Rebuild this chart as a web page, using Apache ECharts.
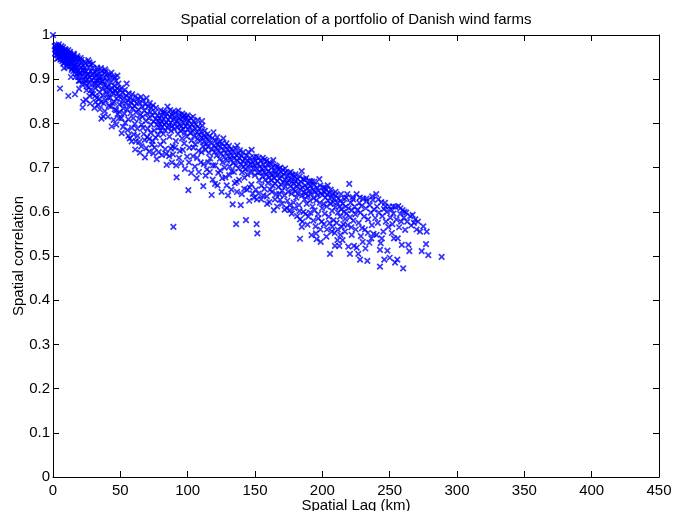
<!DOCTYPE html>
<html>
<head>
<meta charset="utf-8">
<script src="https://cdn.jsdelivr.net/npm/echarts@6/dist/echarts.min.js"></script>
<style>
  html, body { margin: 0; padding: 0; background: #fff; }
  #chart { width: 673px; height: 511px; }
</style>
</head>
<body>
<div id="chart"></div>
<script>
// Spatial lag (km) vs. correlation for pairs of wind farms, split into distance bands.
var nearPairs = [
  [0,1.00],[1.2,0.975],[1.8,0.968],[2.1,0.962],[2.3,0.971],[2.5,0.977],[2.9,0.955],[3.1,0.970],[3.4,0.963],[3.6,0.975],[3.8,0.958],
  [4.0,0.948],[4.2,0.972],[4.5,0.966],[4.7,0.960],[4.9,0.953],[5.2,0.961],[5.2,0.879],[5.5,0.944],[5.8,0.969],[5.9,0.951],[6.0,0.957],
  [6.3,0.950],[6.6,0.964],[6.8,0.967],[6.9,0.941],[7.1,0.958],[7.4,0.972],[7.7,0.946],[7.9,0.960],[8.0,0.953],[8.3,0.962],[8.6,0.938],
  [8.8,0.944],[8.9,0.955],[9.2,0.947],[9.5,0.966],[9.7,0.957],[9.9,0.940],[10.2,0.952],[10.5,0.960],[10.8,0.934],[10.9,0.948],[11.1,0.945],
  [11.3,0.966],[11.4,0.862],[11.6,0.956],[11.9,0.928],[12.0,0.940],[12.2,0.949],[12.5,0.939],[12.8,0.958],[13.1,0.931],[13.4,0.944],[13.5,0.937],
  [13.8,0.952],[14.1,0.925],[14.4,0.937],[14.6,0.951],[14.8,0.946],[15.1,0.918],[15.4,0.930],[15.7,0.955],[15.9,0.927],[16.0,0.940],[16.3,0.866],
  [16.5,0.922],[16.8,0.934],[17.0,0.918],[17.2,0.947],[17.5,0.912],[17.9,0.928],[18.2,0.939],[18.4,0.948],[18.6,0.905],[18.9,0.921],[19.3,0.944],
  [19.6,0.931],[19.8,0.913],[20.0,0.897],[20.3,0.915],[20.7,0.926],[21.0,0.938],[21.2,0.944],[21.4,0.908],[21.8,0.920],[22.0,0.836],[22.2,0.931],
  [22.5,0.849],[22.6,0.899],[22.8,0.920],[23.0,0.914],[23.3,0.925],[23.7,0.890],[24.0,0.906],[24.2,0.897],[24.4,0.935],[24.5,0.853],[24.8,0.918],
  [25.1,0.884],[25.5,0.900],[25.9,0.912],[26.0,0.909],[26.2,0.943],[26.5,0.927],[26.9,0.893],[27.3,0.905],[27.5,0.845],[27.8,0.918],[28.0,0.933],
  [28.2,0.876],[28.6,0.898],[29.0,0.910],[29.4,0.925],[29.8,0.866],[30.0,0.912],[30.2,0.889],[30.6,0.903],[30.8,0.835],[31.0,0.916],[31.4,0.880],
  [31.8,0.896],[32.0,0.890],[32.2,0.909],[32.6,0.858],[33.0,0.921],[33.4,0.884],[33.5,0.842],[33.8,0.898],[34.0,0.904],[34.2,0.912],[34.6,0.870],
  [35.0,0.891],[35.4,0.905],[35.8,0.848],[36.0,0.811],[36.2,0.918],[36.4,0.895],[36.6,0.878],[37.0,0.895],[37.3,0.816],[37.4,0.863],[37.8,0.906],
  [38.0,0.914],[38.2,0.886],[38.5,0.828],[38.6,0.922],[39.0,0.852],[39.4,0.873],[39.8,0.897],[40.0,0.882],[40.2,0.910],[40.6,0.866],[40.8,0.815],
  [41.0,0.884],[41.4,0.840],[41.8,0.901],[42.0,0.910],[42.2,0.876],[42.6,0.858],[43.0,0.893],[43.6,0.793],[43.9,0.880],[44.0,0.870],[44.3,0.845],
  [44.7,0.905],[45.0,0.808],[45.1,0.868],[45.5,0.885],[45.9,0.832],[46.0,0.904],[46.3,0.874],[46.7,0.896],[47.0,0.797],[47.1,0.856],[47.5,0.879],
  [48.0,0.821],[48.2,0.868],[48.5,0.890],[48.8,0.862],[49.0,0.812],[49.3,0.843],[49.7,0.876],
  [1.5,0.958],[3.0,0.946],[4.4,0.979],[6.2,0.975],[7.6,0.935],[9.0,0.968],[10.4,0.929],[12.6,0.962],[13.9,0.921],[15.3,0.958],[16.6,0.905],
  [18.0,0.952],[19.1,0.896],[20.5,0.948],[21.6,0.889],[23.5,0.940],[24.9,0.875],[26.7,0.882],[27.1,0.938],[28.9,0.868],[29.6,0.935],[31.2,0.862],
  [32.8,0.926],[34.4,0.856],[35.6,0.925],[37.6,0.845],[39.2,0.918],[41.2,0.858],[42.8,0.838],[43.3,0.915],[45.3,0.848],[46.8,0.830],[47.8,0.908],
  [49.5,0.826],[34.8,0.832],[31.6,0.848],[27.0,0.862],[19.4,0.878],[13.3,0.905],[8.2,0.925]
];

var midPairs = [
  [50.2,0.858],[50.6,0.880],[51.0,0.778],[51.3,0.846],[51.8,0.869],[52.2,0.834],[52.6,0.857],[53.0,0.822],[53.4,0.876],[53.9,0.845],[54.3,0.863],
  [54.7,0.890],[55.1,0.831],[55.5,0.852],[55.9,0.809],[56.3,0.868],[56.7,0.840],[57.0,0.766],[57.2,0.857],[57.6,0.823],[58.0,0.848],[58.4,0.759],
  [58.8,0.866],[59.2,0.834],[59.6,0.812],[60.0,0.852],[60.4,0.839],[60.8,0.799],[61.0,0.741],[61.3,0.862],[61.7,0.825],[62.1,0.845],[62.6,0.788],
  [63.0,0.856],[63.4,0.831],[63.8,0.810],[64.2,0.847],[64.6,0.734],[65.0,0.820],[65.4,0.860],[65.8,0.797],[66.2,0.838],[66.6,0.815],[67.0,0.852],
  [67.4,0.776],[67.8,0.829],[68.3,0.723],[68.6,0.843],[69.0,0.805],[69.5,0.857],[69.9,0.822],[70.3,0.788],[70.7,0.838],[71.1,0.812],[71.5,0.765],
  [71.9,0.846],[72.3,0.826],[72.7,0.798],[73.1,0.835],[73.5,0.752],[73.9,0.818],[74.3,0.841],[74.5,0.732],[74.8,0.804],[75.2,0.784],[75.6,0.825],
  [76.0,0.810],[76.4,0.835],[77.0,0.719],[77.2,0.797],[77.6,0.818],[78.0,0.774],
  [78.3,0.806],[78.7,0.791],[79.1,0.812],[79.5,0.799],[79.9,0.783],[80.3,0.818],[80.7,0.804],[81.1,0.792],[81.5,0.826],[81.9,0.776],[82.3,0.810],
  [82.7,0.797],[83.1,0.785],[83.5,0.815],[83.9,0.801],[84.4,0.706],[84.6,0.822],[85.0,0.838],[85.3,0.789],[85.7,0.808],[86.1,0.796],[86.5,0.770],
  [86.9,0.814],[87.3,0.802],[87.7,0.783],[88.1,0.820],[88.5,0.794],[88.9,0.748],[89.4,0.566],[89.6,0.809],[90.0,0.787],[90.4,0.815],[90.8,0.799],
  [91.2,0.760],[91.8,0.678],[92.0,0.805],[92.4,0.791],[92.8,0.776],[93.0,0.829],[93.4,0.812],[93.8,0.797],[94.2,0.738],[94.6,0.783],[95.0,0.808],
  [95.4,0.794],[95.8,0.766],[96.2,0.815],[96.6,0.787],[97.0,0.802],[97.4,0.755],[97.8,0.779],[98.2,0.811],[98.6,0.794],[99.0,0.814],[99.4,0.770],
  [99.8,0.800],[100.2,0.786],[100.5,0.649],[100.8,0.806],[101.2,0.745],[101.6,0.792],[102.0,0.778],[102.4,0.812],[102.8,0.761],[103.2,0.797],
  [103.6,0.782],[104.0,0.726],[104.4,0.805],[104.8,0.771],[105.2,0.789],[105.6,0.753],[106.0,0.798],[106.7,0.676],[106.9,0.779],[107.3,0.765],
  [107.7,0.793],[108.1,0.738],[108.5,0.775],[108.9,0.789],[109.3,0.760],[109.7,0.712],[110.1,0.781],[110.5,0.768],[110.9,0.795],[111.3,0.748],
  [111.6,0.658],[111.9,0.772],
  [112.3,0.758],[112.7,0.783],[113.1,0.740],[113.5,0.769],[113.9,0.753],[114.3,0.696],[114.7,0.776],[115.1,0.747],[115.5,0.763],[115.9,0.733],
  [116.3,0.771],[116.7,0.721],[117.1,0.756],[117.8,0.638],[118.0,0.742],[118.4,0.767],[118.8,0.705],[119.2,0.780],[119.6,0.750],[120.0,0.735],
  [120.3,0.663],[120.7,0.761],[121.1,0.744],[121.5,0.727],[121.9,0.769],[122.3,0.752],[122.7,0.688],[123.1,0.738],[123.5,0.758],[123.9,0.720],
  [124.3,0.747],[124.8,0.731],[125.2,0.645],[125.5,0.755],[125.9,0.712],[126.5,0.766],[126.8,0.740],[127.2,0.724],[127.6,0.748],[128.0,0.678],
  [128.4,0.733],[128.8,0.755],[129.2,0.716],[129.6,0.741],[130.0,0.637],[130.3,0.726],[130.7,0.749],[131.1,0.703],[131.5,0.735],[131.9,0.718],
  [132.3,0.742],[132.7,0.692],[133.1,0.727],[133.4,0.617],[133.8,0.710],[134.2,0.737],[134.6,0.721],[135.0,0.665],[135.4,0.744],[135.8,0.705],
  [136.0,0.572],[136.2,0.728],[136.4,0.668],[136.8,0.750],
  [137.2,0.715],[137.6,0.732],[138.0,0.698],[138.4,0.722],[138.8,0.739],[139.4,0.615],[139.6,0.708],[140.0,0.726],[140.4,0.689],[140.8,0.714],
  [141.2,0.735],[141.6,0.702],[142.0,0.652],[142.4,0.720],[142.8,0.696],[143.3,0.581],[143.5,0.727],[143.9,0.709],[144.3,0.684],[144.7,0.716],
  [145.1,0.735],[145.5,0.699],[146.0,0.655],[146.3,0.722],[146.7,0.708],[147.1,0.688],[147.5,0.740],[147.9,0.713],[148.3,0.641],[148.7,0.697],
  [149.1,0.724],[149.5,0.705],
  [50.8,0.812],[52.0,0.792],[53.6,0.801],[55.3,0.785],[56.0,0.772],[58.6,0.790],[59.9,0.775],[61.5,0.760],[62.8,0.772],[64.0,0.758],[65.6,0.748],
  [66.8,0.790],[68.0,0.762],[69.2,0.744],[70.0,0.769],[71.3,0.736],[72.5,0.779],[74.0,0.760],[75.4,0.745],[76.2,0.768],[78.5,0.735],[79.7,0.752],
  [80.9,0.728],[82.1,0.760],[83.3,0.742],[84.1,0.731],[86.3,0.726],[87.5,0.743],[88.3,0.712],[89.1,0.730],[90.6,0.745],[91.5,0.705],[93.6,0.722],
  [95.2,0.710],[96.4,0.740],[98.0,0.697],[99.6,0.725],[101.0,0.712],[102.6,0.688],[104.2,0.745],[105.4,0.702],[107.0,0.722],[108.3,0.690],
  [110.3,0.735],[112.0,0.708],[113.3,0.682],[115.3,0.712],[116.5,0.690],[118.6,0.673],[120.5,0.705],[122.1,0.660],[124.1,0.693],[125.7,0.676],
  [127.4,0.700],[129.0,0.660],[130.9,0.683],[132.5,0.650],[134.4,0.690],[136.6,0.645],[138.2,0.672],[140.2,0.640],[142.2,0.677],[144.1,0.650],
  [145.7,0.625],[147.3,0.662],[149.3,0.632],
  [80.0,0.830],[83.0,0.825],[87.0,0.830],[91.0,0.825],[96.0,0.822],[100.0,0.818],[104.0,0.815],[107.5,0.808],[110.6,0.805],[97.5,0.818],
  [94.0,0.820],[89.0,0.826]
];

var farPairs = [
  [150.0,0.683],[150.4,0.716],[150.8,0.698],[151.2,0.572],[151.4,0.628],[151.7,0.551],[152.0,0.709],[152.4,0.688],[152.8,0.722],[153.2,0.671],
  [153.6,0.702],[154.0,0.690],[154.4,0.714],[154.8,0.659],[155.2,0.697],[155.6,0.680],[156.2,0.637],[156.4,0.707],[156.8,0.689],[157.2,0.718],
  [157.6,0.672],[158.0,0.699],[158.4,0.684],[159.0,0.618],[159.2,0.706],[159.6,0.665],[160.0,0.692],[160.4,0.678],[160.8,0.712],[161.2,0.650],
  [161.6,0.688],[162.0,0.671],[162.4,0.700],[162.8,0.683],[163.2,0.659],[163.6,0.717],[164.0,0.604],[164.2,0.676],[164.6,0.693],[165.0,0.664],
  [165.4,0.686],[165.8,0.640],[166.2,0.702],[166.6,0.670],[167.0,0.684],[167.4,0.656],[167.8,0.697],[168.2,0.675],[168.6,0.627],[169.0,0.690],
  [169.4,0.661],[169.8,0.681],[170.2,0.648],[170.6,0.695],[171.0,0.668],[171.4,0.684],[171.8,0.637],[172.2,0.673],[172.6,0.657],[173.0,0.690],
  [173.5,0.608],[173.8,0.665],[174.2,0.680],[174.6,0.645],[175.0,0.671],[175.4,0.688],[176.0,0.604],
  [176.3,0.658],[176.7,0.675],[177.1,0.641],[177.5,0.668],[177.9,0.684],[178.3,0.652],[178.7,0.621],[179.1,0.663],[179.5,0.679],[179.9,0.646],
  [180.3,0.670],[180.7,0.632],[181.1,0.657],[181.5,0.674],[181.9,0.641],[182.3,0.662],[182.7,0.615],[183.4,0.583],[183.4,0.539],[183.6,0.651],
  [184.0,0.668],[184.7,0.692],[184.7,0.566],[185.0,0.637],[185.4,0.656],[185.8,0.674],[186.0,0.600],[186.4,0.645],[186.8,0.628],[187.2,0.660],
  [187.6,0.641],[188.0,0.676],[188.4,0.618],[188.8,0.653],[189.2,0.636],[189.6,0.589],[190.0,0.664],[190.4,0.647],[190.8,0.625],[191.2,0.658],
  [191.6,0.640],[192.0,0.547],[192.3,0.669],[192.7,0.612],[193.1,0.650],[193.5,0.631],[193.9,0.661],[194.3,0.603],[194.7,0.645],[195.3,0.551],
  [195.5,0.626],[195.8,0.538],[196.0,0.655],[196.4,0.637],[196.8,0.595],[197.2,0.648],[197.8,0.674],[198.2,0.620],[198.8,0.532],[199.0,0.641],
  [199.5,0.578],[199.8,0.608],
  [200.2,0.638],[200.6,0.655],[201.0,0.618],[201.4,0.645],[201.8,0.596],[202.2,0.632],[202.6,0.650],[203.0,0.544],[203.2,0.612],[203.6,0.639],
  [204.0,0.660],[204.4,0.625],[204.8,0.589],[205.2,0.643],[205.7,0.505],[206.0,0.618],[206.4,0.633],[207.0,0.555],[207.2,0.602],[207.6,0.640],
  [208.0,0.622],[208.4,0.581],[208.8,0.629],[209.4,0.523],[209.6,0.610],[210.0,0.637],[210.6,0.575],[211.0,0.620],[211.2,0.536],[211.6,0.598],
  [212.0,0.630],[212.6,0.523],[212.8,0.612],[213.2,0.589],[213.6,0.625],[214.0,0.606],[214.4,0.566],[215.0,0.536],[215.2,0.618],[215.6,0.572],
  [216.0,0.600],[216.5,0.629],[217.0,0.584],[217.4,0.612],[218.0,0.596],[218.5,0.640],[219.3,0.521],[219.5,0.608],[220.0,0.663],[220.5,0.505],
  [220.6,0.588],[221.0,0.620],[221.5,0.565],[222.0,0.603],[222.5,0.633],[223.0,0.580],[223.5,0.523],[224.0,0.612],[224.5,0.594],
  [225.5,0.640],[225.5,0.519],[226.0,0.604],[226.7,0.505],[227.0,0.575],[227.5,0.620],[228.0,0.492],[228.3,0.598],[229.0,0.613],[229.5,0.563],
  [230.0,0.532],[230.3,0.630],[231.0,0.589],[231.7,0.560],[232.0,0.517],[232.3,0.608],[233.0,0.624],[233.4,0.489],[234.0,0.583],[234.9,0.530],
  [235.2,0.615],[236.0,0.598],[236.8,0.570],[237.5,0.627],[238.0,0.550],[238.5,0.605],[239.3,0.586],[240.0,0.640],[240.6,0.612],[241.2,0.575],
  [242.0,0.598],[242.8,0.514],[242.8,0.476],[243.3,0.529],[243.8,0.622],[244.5,0.590],[245.3,0.555],[245.8,0.606],[246.0,0.492],[246.5,0.620],
  [247.2,0.578],[248.0,0.600],[248.3,0.512],[249.0,0.566],[249.6,0.612],
  [250.0,0.496],[250.5,0.587],[251.2,0.605],[252.0,0.572],[252.8,0.596],[253.2,0.540],[254.0,0.485],[254.3,0.611],[255.0,0.583],[255.7,0.492],
  [256.4,0.613],[257.0,0.565],[257.8,0.595],[258.5,0.578],[259.0,0.525],[259.6,0.604],[260.0,0.472],[260.6,0.587],[261.5,0.559],[262.3,0.598],
  [263.0,0.578],[263.9,0.525],[264.6,0.511],[265.2,0.590],[266.0,0.569],[267.0,0.593],[268.0,0.575],[269.0,0.583],[270.0,0.560],[271.0,0.578],
  [272.5,0.555],[273.8,0.511],[275.0,0.567],[277.0,0.527],[277.5,0.555],[278.7,0.502],[288.6,0.498],
  [150.6,0.650],[152.6,0.641],[154.6,0.628],[157.0,0.652],[158.8,0.635],[160.6,0.622],[162.6,0.645],[164.8,0.628],[166.4,0.612],[168.0,0.640],
  [170.0,0.618],[172.0,0.605],[174.0,0.625],[175.8,0.615],[177.3,0.596],[179.3,0.608],[181.3,0.590],[183.0,0.602],[185.2,0.578],[187.4,0.595],
  [189.0,0.571],[191.0,0.598],[193.3,0.580],[195.0,0.567],[197.0,0.585],[198.6,0.560],[201.2,0.572],[203.4,0.560],[205.4,0.575],[207.4,0.566],
  [209.2,0.552],[211.4,0.560],[213.4,0.548],[216.8,0.555],[218.8,0.570],[221.8,0.548],[224.8,0.560],[228.6,0.545],[233.8,0.552],[236.4,0.540],
  [240.3,0.548],[244.2,0.540],[251.6,0.552],[256.0,0.540],
  [151.0,0.725],[155.8,0.722],[158.6,0.715],[161.8,0.708],[165.2,0.705],[168.8,0.700],[172.4,0.698],[176.5,0.690],[180.0,0.685],[183.2,0.680],
  [187.0,0.672],[190.6,0.670],[194.0,0.668],[198.4,0.660],[202.0,0.655],[206.2,0.650],[209.8,0.645],[213.8,0.640],[217.8,0.632],[222.8,0.628],
  [227.8,0.632],[232.7,0.630],[237.0,0.635],[241.6,0.628],[246.8,0.612],[252.4,0.612],[258.0,0.608],[261.0,0.600]
];

// Axis ranges and tick steps
var xRange = [0, 450], xStep = 50;
var yRange = [0, 1], yStep = 0.1;

var FONT = '"Liberation Sans", Arial, Helvetica, sans-serif';
var BLUE = '#0000ff';
// small "x" marker drawn as two strokes
var CROSS = 'path://M0,0L10,10M10,0L0,10';

function scatterSeries(data) {
  return {
    type: 'scatter',
    data: data,
    symbol: CROSS,
    symbolSize: 5.5,
    itemStyle: { color: 'none', borderColor: BLUE, borderWidth: 1.7 },
    emphasis: { disabled: true },
    animation: false
  };
}

function yLabel(v) {
  var r = Math.round(v * 10) / 10;
  if (r === 0) return '0';
  if (r === 1) return '1';
  return r.toFixed(1);
}

var chart = echarts.init(document.getElementById('chart'), null, { renderer: 'canvas' });

var boxLine = { show: true, onZero: false, lineStyle: { color: '#000', width: 1 } };
var tick = { show: true, inside: true, length: 6, lineStyle: { color: '#000', width: 1 } };
var labelText = { fontFamily: FONT, fontSize: 15, color: '#000' };

chart.setOption({
  backgroundColor: '#fff',
  animation: false,
  title: {
    text: 'Spatial correlation of a portfolio of Danish wind farms',
    left: 356, top: 12, padding: 0, textAlign: 'center',
    textStyle: { fontFamily: FONT, fontSize: 15, fontWeight: 'normal', color: '#000' }
  },
  grid: { left: 53, right: 14, top: 35, bottom: 34, containLabel: false, outerBoundsMode: 'none' },
  xAxis: [{
    type: 'value', position: 'bottom', min: xRange[0], max: xRange[1], interval: xStep,
    name: 'Spatial Lag (km)', nameLocation: 'middle', nameGap: 21, nameMoveOverlap: false,
    nameTextStyle: labelText,
    axisLine: boxLine, axisTick: tick, splitLine: { show: false },
    axisLabel: { fontFamily: FONT, fontSize: 15, color: '#000', margin: 6 }
  }, {
    type: 'value', position: 'top', min: xRange[0], max: xRange[1], interval: xStep,
    axisLine: boxLine, axisTick: tick, splitLine: { show: false }, axisLabel: { show: false }
  }],
  yAxis: [{
    type: 'value', position: 'left', min: yRange[0], max: yRange[1], interval: yStep,
    name: 'Spatial correlation', nameLocation: 'middle', nameGap: 27, nameRotate: 90, nameMoveOverlap: false,
    nameTextStyle: labelText,
    axisLine: boxLine, axisTick: tick, splitLine: { show: false },
    axisLabel: { fontFamily: FONT, fontSize: 15, color: '#000', margin: 3, formatter: yLabel }
  }, {
    type: 'value', position: 'right', min: yRange[0], max: yRange[1], interval: yStep,
    axisLine: boxLine, axisTick: tick, splitLine: { show: false }, axisLabel: { show: false }
  }],
  series: [scatterSeries(nearPairs), scatterSeries(midPairs), scatterSeries(farPairs)]
});
</script>
</body>
</html>
